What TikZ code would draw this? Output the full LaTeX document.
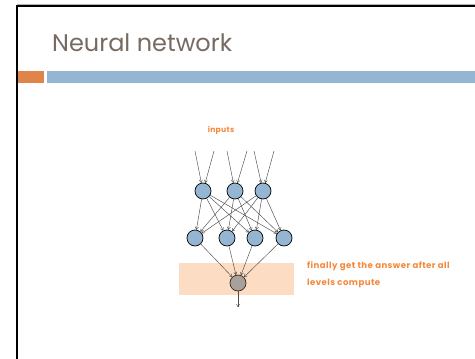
\documentclass[tikz,border=0pt]{standalone}
\usepackage{fontspec}
\setmainfont{Poppins}
\usetikzlibrary{arrows.meta}
\definecolor{titlec}{HTML}{776A62}
\definecolor{orangebar}{HTML}{E0844A}
\definecolor{bluebar}{HTML}{94B6D2}
\definecolor{nodeblue}{HTML}{94B6D2}
\definecolor{outgray}{HTML}{A8A09C}
\definecolor{peach}{HTML}{FDDCC4}
\definecolor{textorange}{HTML}{F5883A}
\tikzset{
  neuron/.style={circle,draw=black,line width=0.7pt,fill=nodeblue,minimum size=16pt,inner sep=0pt},
  outneuron/.style={circle,draw=black!70!brown,line width=0.7pt,fill=outgray,minimum size=16pt,inner sep=0pt},
  conn/.style={draw=black!70,line width=0.45pt,-{To[length=3pt,width=3.5pt]}},
  lbl/.style={text=textorange,inner sep=0pt}
}
\begin{document}
\begin{tikzpicture}[x=1pt,y=-1pt]
\useasboundingbox (0,0) rectangle (475,359);
% frame
\draw[gray!60,line width=0.8pt] (17,4) -- (476,4);
\draw[black,line width=2.2pt] (17,6) -- (476,6);
\draw[black,line width=2.2pt] (17,5) -- (17,360);
% title
\node[anchor=base west,text=titlec,font=\fontsize{24}{28}\selectfont,inner sep=0pt] (title) at (52,51) {Neural network};
% bars
\fill[orangebar] (18,71) rectangle (44,83);
\fill[bluebar] (47,71) rectangle (476,83);
% peach band
\fill[peach] (179,263) rectangle (294,295);
% inputs label
\node[lbl,font=\fontsize{7.6}{10}\selectfont\bfseries\addfontfeatures{LetterSpace=4}] (inp) at (221,130) {inputs};
% layer 1
\node[neuron] (a1) at (203,191) {};
\node[neuron] (a2) at (235,191) {};
\node[neuron] (a3) at (263,191) {};
% layer 2
\node[neuron] (b1) at (195,238) {};
\node[neuron] (b2) at (227,238) {};
\node[neuron] (b3) at (255,238) {};
\node[neuron] (b4) at (284,238) {};
% output
\node[outneuron] (o) at (238,283) {};
% input coordinates
\coordinate (i1) at (195,151);
\coordinate (i2) at (214,151);
\coordinate (i3) at (227,151);
\coordinate (i4) at (247,151);
\coordinate (i5) at (254,151);
\coordinate (i6) at (274,151);
\coordinate (out) at (238,307);
\draw[conn] (i1) -- (a1);
\draw[conn] (i2) -- (a1);
\draw[conn] (i3) -- (a2);
\draw[conn] (i4) -- (a2);
\draw[conn] (i5) -- (a3);
\draw[conn] (i6) -- (a3);
\foreach \s in {a1,a2,a3}{
  \foreach \t in {b1,b2,b3,b4}{
    \draw[conn] (\s) -- (\t);
  }
}
\foreach \s in {b1,b2,b3,b4}{
  \draw[conn] (\s) -- (o);
}
\draw[conn] (o) -- (out);
% answer label
\tikzset{anslbl/.style={lbl,anchor=base west,font=\fontsize{8.6}{10}\selectfont\bfseries\addfontfeatures{LetterSpace=5}}}
\node[anslbl] (ans1) at (307,268) {finally get the answer after all};
\node[anslbl] (ans2) at (307,285) {levels compute};
\end{tikzpicture}
\end{document}
